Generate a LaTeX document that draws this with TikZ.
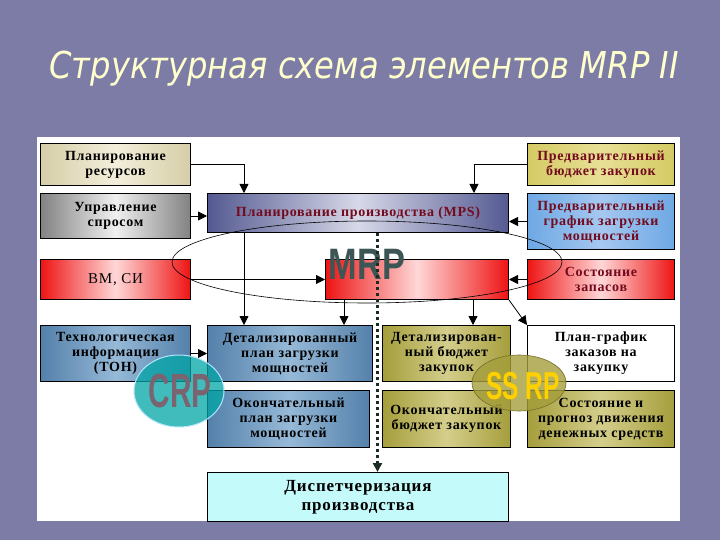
\documentclass[tikz,border=0pt]{standalone}
\usepackage{fontspec}
\setmainfont{Liberation Serif}
\newfontfamily\boxfont[LetterSpace=5]{Liberation Serif}
\newfontfamily\titlefont{DejaVu Sans}
\newfontfamily\logofont{Liberation Sans}
\usetikzlibrary{positioning, arrows.meta, calc, shapes.geometric}

\definecolor{slide}{RGB}{124,124,166}
\definecolor{titlecol}{RGB}{255,255,205}
\definecolor{darkred}{RGB}{115,10,30}
\definecolor{beigeD}{RGB}{214,206,168}
\definecolor{beigeL}{RGB}{242,238,218}
\definecolor{grayD}{RGB}{130,130,130}
\definecolor{grayL}{RGB}{240,240,240}
\definecolor{mpsD}{RGB}{84,90,145}
\definecolor{mpsL}{RGB}{215,216,232}
\definecolor{yellowD}{RGB}{212,202,100}
\definecolor{yellowL}{RGB}{232,224,150}
\definecolor{skyD}{RGB}{110,168,228}
\definecolor{skyL}{RGB}{165,200,240}
\definecolor{redD}{RGB}{238,20,20}
\definecolor{redL}{RGB}{255,215,215}
\definecolor{steelD}{RGB}{84,128,170}
\definecolor{steelL}{RGB}{150,185,215}
\definecolor{oliveD}{RGB}{165,158,60}
\definecolor{oliveL}{RGB}{212,206,140}
\definecolor{cyanL}{RGB}{196,250,250}
\definecolor{dashcol}{RGB}{25,45,35}

\tikzstyle{box} = [rectangle, draw=black, line width=1pt, inner sep=1pt, minimum width=150pt, align=center, font=\boxfont\bfseries\fontsize{14}{15}\selectfont]
\tikzstyle{beigebox} = [box, left color=beigeD, right color=beigeD, middle color=beigeL]
\tikzstyle{graybox} = [box, left color=grayD, right color=grayD, middle color=grayL]
\tikzstyle{mpsbox} = [box, left color=mpsD, right color=mpsD, middle color=mpsL, text=darkred]
\tikzstyle{yellowbox} = [box, left color=yellowD, right color=yellowD, middle color=yellowL, text=darkred]
\tikzstyle{skybox} = [box, left color=skyD, right color=skyD, middle color=skyL, text=darkred]
\tikzstyle{redbox} = [box, left color=redD, right color=redD, middle color=redL]
\tikzstyle{steelbox} = [box, left color=steelD, right color=steelD, middle color=steelL]
\tikzstyle{olivebox} = [box, left color=oliveD, right color=oliveD, middle color=oliveL]
\tikzstyle{whitebox} = [box, fill=white]
\tikzstyle{cyanbox} = [box, fill=cyanL]
\tikzstyle{arrow} = [line width=0.8pt, -{Triangle[length=9pt,width=9pt]}]
\tikzstyle{mainflow} = [line width=3.2pt, dashcol, dash pattern=on 3pt off 3pt, -{Triangle[length=9pt,width=9pt]}]
\tikzstyle{logo} = [font=\logofont\bfseries\fontsize{44}{44}\selectfont]

\begin{document}
\begin{tikzpicture}[x=1pt, y=-1pt]

  % Slide and panel
  \fill[slide] (0,0) rectangle (720,540);
  \useasboundingbox (0,0) rectangle (720,540);
  \fill[white] (37,137) rectangle (680,521);

  \node (title) [text=titlecol, xscale=0.87, font=\titlefont\itshape\fontsize{37}{40}\selectfont] at (364,69) {Структурная схема элементов MRP II};

  % Left column
  \node (res) [beigebox, minimum height=42pt, anchor=north west] at (40,143) {Планирование\\ресурсов};
  \node (dem) [graybox, below=7pt of res, minimum height=45pt] {Управление\\спросом};
  \node (vm) [redbox, below=20pt of dem, minimum height=40pt, font=\boxfont\fontsize{15}{16}\selectfont] {ВМ, СИ};
  \node (tech) [steelbox, below=25pt of vm, minimum height=56pt] {Технологическая\\информация\\(ТОН)};

  % Middle
  \node (mps) [mpsbox, minimum width=301pt, minimum height=39pt, right=16pt of dem.north east, anchor=north west] {Планирование производства (MPS)};
  \node (mrp) [redbox, minimum width=183pt, minimum height=40pt, below=26pt of mps.south east, anchor=north east] {};
  \node (detplan) [steelbox, minimum width=165pt, minimum height=56pt, right=16pt of tech] {Детализированный\\план загрузки\\мощностей};
  \node (okplan) [steelbox, minimum width=162pt, minimum height=57pt, below=8pt of detplan.south west, anchor=north west] {Окончательный\\план загрузки\\мощностей};
  \node (detbud) [olivebox, minimum width=128pt, minimum height=56pt, right=9pt of detplan] {Детализирован-\\ный бюджет\\закупок};
  \node (okbud) [olivebox, minimum width=128pt, minimum height=57pt, below=8pt of detbud] {Окончательный\\бюджет закупок};
  \node (disp) [cyanbox, minimum width=301pt, minimum height=49pt, below=24pt of okplan.south west, anchor=north west, font=\boxfont\bfseries\fontsize{17}{19}\selectfont] {Диспетчеризация\\производства};

  % Right column
  \node (pbud) [yellowbox, minimum width=147pt, minimum height=42pt, anchor=north west] at (527,143) {Предварительный\\бюджет закупок};
  \node (pgraf) [skybox, minimum width=147pt, minimum height=56pt, below=7pt of pbud] {Предварительный\\график загрузки\\мощностей};
  \node (stock) [redbox, minimum width=147pt, minimum height=40pt, below=9pt of pgraf, text=darkred] {Состояние\\запасов};
  \node (order) [whitebox, minimum width=147pt, minimum height=56pt, below=25pt of stock] {План-график\\заказов на\\закупку};
  \node (cash) [olivebox, minimum width=147pt, minimum height=57pt, below=8pt of order] {Состояние и\\прогноз движения\\денежных средств};

  % Module marks
  \node (crp) [ellipse, fill=teal!70!cyan, fill opacity=0.75, draw=cyan!30, line width=1pt, minimum width=90pt, minimum height=72pt] at (179,391) {};
  \node (crplabel) [logo, text={rgb,255:red,122;green,100;blue,112}, xscale=0.62, font=\logofont\bfseries\fontsize{48}{48}\selectfont] at (180,391) {CRP};
  \node (ssrp) [ellipse, fill=oliveD, fill opacity=0.8, draw=oliveD!70!black, line width=0.6pt, minimum width=94pt, minimum height=56pt] at (519,383) {};
  \node (ssrplabel) [logo, text={rgb,255:red,255;green,208;blue,0}, xscale=0.63, font=\logofont\bfseries\fontsize{39}{39}\selectfont] at (523,386) {SS RP};
  \node (mrplabel) [logo, text={rgb,255:red,60;green,85;blue,85}, xscale=0.78] at (367,264) {MRP};

  % Arrows
  \coordinate (m1) at ([xshift=19pt]mrp.south west);
  \coordinate (m2) at ([xshift=-36pt]mrp.south east);
  \draw[arrow] (res.east) -| ([xshift=37pt]mps.north west);
  \draw[arrow] (pbud.west) -| ([xshift=-35pt]mps.north east);
  \draw[arrow] (dem.east) -- (dem.east -| mps.west);
  \draw[arrow] (pgraf.west) -- (pgraf.west -| mps.east);
  \draw[arrow] (vm.east) -- (vm.east -| mrp.west);
  \draw[arrow] (stock.west) -- (stock.west -| mrp.east);
  \draw[arrow] ([xshift=37pt]mps.south west) -- ([xshift=37pt]detplan.north west);
  \draw[arrow] (m1) -- (m1 |- detplan.north);
  \draw[arrow] (m2) -- (m2 |- detbud.north);
  \draw[arrow] (mrp.south east) -- (order.north west);
  \draw[arrow] (tech.east) -- (detplan.west);

  % MRP zone
  \draw[line width=0.6pt] (367,262) ellipse [x radius=195pt, y radius=41pt];

  % Main flow down to dispatching
  \coordinate (gap) at ($(detplan.north east)!0.5!(detbud.north west)$);
  \coordinate (split) at (gap |- mps.south);
  \draw[mainflow] (split) -- (split |- disp.north);

\end{tikzpicture}
\end{document}
